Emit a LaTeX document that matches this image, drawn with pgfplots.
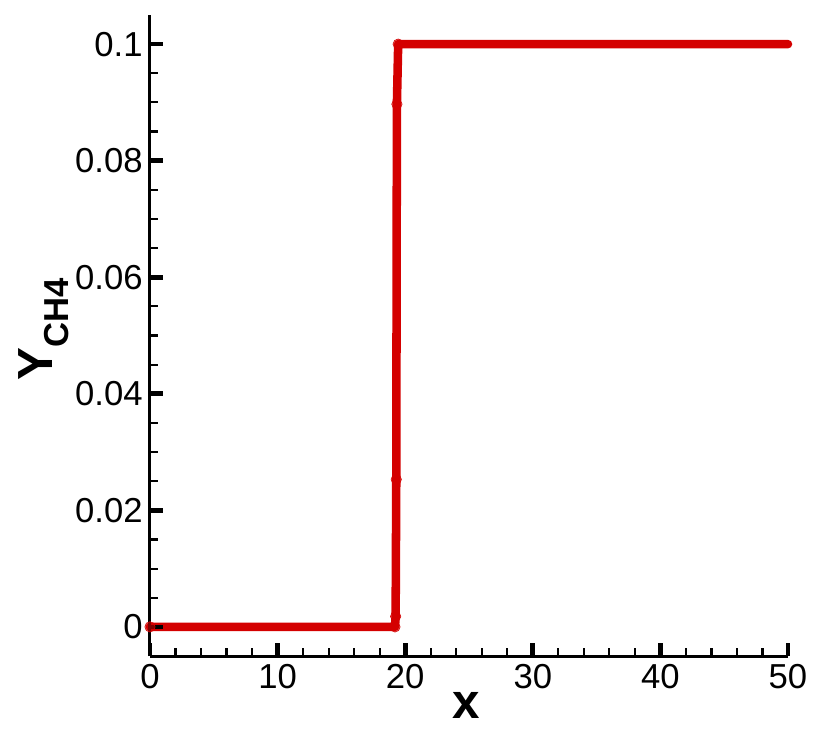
\documentclass[border=0pt]{standalone}
\usepackage{pgfplots}
\pgfplotsset{compat=1.18}
\usepackage{fontspec}
\setmainfont{Liberation Sans}
\definecolor{cred}{RGB}{212,0,0}
\begin{document}
\begin{tikzpicture}
\begin{axis}[
  scale only axis,
  width=478.5pt, height=480.75pt,
  axis lines*=left,
  axis on top,
  xmin=0, xmax=50, ymin=-0.005, ymax=0.105,
  xtick={0,10,20,30,40,50},
  minor x tick num=4,
  ytick={0,0.02,0.04,0.06,0.08,0.1},
  minor y tick num=3,
  tick align=inside,
  major tick length=10pt,
  minor tick length=6pt,
  axis line style={line width=2.25pt},
  major tick style={line width=3.5pt, black},
  minor tick style={line width=1.6pt, black},
  /pgf/number format/assume math mode=true,
  yticklabel style={/pgf/number format/fixed, /pgf/number format/precision=2, font=\fontsize{26}{26}\selectfont, xshift=-2pt},
  xticklabel style={font=\fontsize{26}{26}\selectfont, yshift=-3pt},
  xlabel={\bfseries x},
  xlabel style={font=\fontsize{37}{37}\selectfont, at={(axis description cs:0.495,0)}, anchor=base, yshift=-46.5pt},
  ylabel={\bfseries Y\raisebox{-12pt}{\fontsize{26}{26}\selectfont CH4}},
  ylabel style={font=\fontsize{37}{37}\selectfont, at={(axis description cs:-0.153,0.51)}, anchor=base, rotate=0},
  clip=false,
]
\addplot[cred, line width=6.4pt, line cap=round, line join=round] coordinates {
(0,0) (5,0) (10,0) (15,0) (19.0,0) (19.2,0) (19.25,0.0018) (19.3,0.0253) (19.35,0.0897) (19.45,0.1) (25,0.1) (30,0.1) (40,0.1) (50,0.1)
};
\addplot[cred, only marks, mark=*, mark size=3.9pt, mark options={draw=none, fill=cred, fill opacity=0.6}] coordinates {
(0,0) (19.2,0) (19.25,0.0018) (19.3,0.0253) (19.35,0.0897) (19.45,0.1)
};
\end{axis}
\path (current axis.south west) ++(-112.5pt,-62.25pt) rectangle ++(622.5pt,554.25pt);
\end{tikzpicture}
\end{document}
